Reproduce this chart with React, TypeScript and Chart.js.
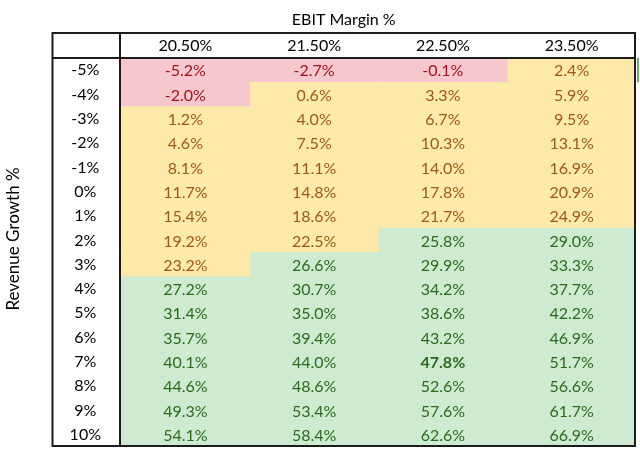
import React, { useEffect, useRef } from "react";
import { Chart, registerables } from "chart.js";

Chart.register(...registerables);

// ---- data ----
const growthLabels = ["-5%", "-4%", "-3%", "-2%", "-1%", "0%", "1%", "2%", "3%", "4%", "5%", "6%", "7%", "8%", "9%", "10%"];
const marginLabels = ["20.50%", "21.50%", "22.50%", "23.50%"];
const margin2050 = [-5.2, -2.0, 1.2, 4.6, 8.1, 11.7, 15.4, 19.2, 23.2, 27.2, 31.4, 35.7, 40.1, 44.6, 49.3, 54.1];
const margin2150 = [-2.7, 0.6, 4.0, 7.5, 11.1, 14.8, 18.6, 22.5, 26.6, 30.7, 35.0, 39.4, 44.0, 48.6, 53.4, 58.4];
const margin2250 = [-0.1, 3.3, 6.7, 10.3, 14.0, 17.8, 21.7, 25.8, 29.9, 34.2, 38.6, 43.2, 47.8, 52.6, 57.6, 62.6];
const margin2350 = [2.4, 5.9, 9.5, 13.1, 16.9, 20.9, 24.9, 29.0, 33.3, 37.7, 42.2, 46.9, 51.7, 56.6, 61.7, 66.9];
const columnValues = [margin2050, margin2150, margin2250, margin2350];
const lowThreshold = 0;
const highThreshold = 25;
const baseRow = 12; // 7%
const baseCol = 2; // 22.50%
const xTitle = "EBIT Margin %";
const yTitle = "Revenue Growth %";

// ---- styles ----
const FONT = "Lato";
const FILL_RED = "#F6C8CE";
const FILL_YELLOW = "#FDE9A9";
const FILL_GREEN = "#CEEBD1";
const TEXT_RED = "#A0141C";
const TEXT_YELLOW = "#9C5A1A";
const TEXT_GREEN = "#2B6A1E";
const LINE = "#1c1c1c";

const fillFor = (v: number) => (v < lowThreshold ? FILL_RED : v < highThreshold ? FILL_YELLOW : FILL_GREEN);
const textFor = (v: number) => (v < lowThreshold ? TEXT_RED : v < highThreshold ? TEXT_YELLOW : TEXT_GREEN);

const tablePlugin = {
  id: "tableDecor",
  afterDatasetsDraw(chart: any) {
    const ctx = chart.ctx;
    ctx.save();
    ctx.textAlign = "center";
    ctx.textBaseline = "middle";
    chart.data.datasets.forEach((ds: any, c: number) => {
      const meta = chart.getDatasetMeta(c);
      meta.data.forEach((el: any, r: number) => {
        const v = ds.values[r];
        const p = el.getCenterPoint();
        const bold = r === baseRow && c === baseCol;
        ctx.font = `${bold ? "bold " : ""}16px ${FONT}`;
        ctx.fillStyle = textFor(v);
        ctx.fillText(`${v.toFixed(1)}%`, p.x, p.y + 1);
      });
    });
    ctx.restore();
  },
  afterDraw(chart: any) {
    const { ctx, chartArea } = chart;
    const left = 52.5;
    const top = 33;
    const right = chartArea.right - 1;
    const bottom = chartArea.bottom - 1;
    ctx.save();
    ctx.strokeStyle = LINE;
    ctx.lineWidth = 2;
    ctx.beginPath();
    ctx.rect(left, top, right - left, bottom - top);
    ctx.moveTo(chartArea.left - 1, top);
    ctx.lineTo(chartArea.left - 1, bottom);
    ctx.moveTo(left, chartArea.top);
    ctx.lineTo(right, chartArea.top);
    ctx.stroke();

    // neighbouring cell marker at the right edge
    const rowH = (chartArea.bottom - chartArea.top) / growthLabels.length;
    ctx.strokeStyle = "#3E8E3E";
    ctx.lineWidth = 1.5;
    ctx.beginPath();
    ctx.moveTo(chartArea.right + 2, chartArea.top);
    ctx.lineTo(chartArea.right + 2, chartArea.top + rowH);
    ctx.stroke();

    ctx.fillStyle = "#000";
    ctx.font = `16px ${FONT}`;
    ctx.textAlign = "center";
    ctx.textBaseline = "middle";
    ctx.fillText(xTitle, (left + right) / 2, 20);
    ctx.font = `17px ${FONT}`;
    ctx.translate(14, 239);
    ctx.rotate(-Math.PI / 2);
    ctx.fillText(yTitle, 0, 0);
    ctx.restore();
  },
};

export default function App() {
  const ref = useRef<HTMLCanvasElement | null>(null);

  useEffect(() => {
    if (!ref.current) return;
    const chart = new Chart(ref.current, {
      type: "bar",
      data: {
        labels: growthLabels,
        datasets: columnValues.map((vals, c) => ({
          label: marginLabels[c],
          data: vals.map(() => [c, c + 1]),
          values: vals,
          backgroundColor: vals.map(fillFor),
          borderWidth: 0,
          barPercentage: 1,
          categoryPercentage: 1,
          grouped: false,
        })) as any,
      },
      options: {
        indexAxis: "y",
        animation: false,
        responsive: false,
        layout: { padding: { left: 0, top: 0, right: 4, bottom: 6 } },
        plugins: {
          legend: { display: false },
          tooltip: { enabled: false },
          title: { display: false },
        },
        scales: {
          y: {
            type: "category",
            grid: { display: false, drawTicks: false },
            border: { display: false },
            ticks: {
              color: "#000",
              font: { family: FONT, size: 16 },
              crossAlign: "center",
              padding: 20,
              autoSkip: false,
            },
            afterFit: (s: any) => {
              s.width = 121;
              s.paddingTop = 0;
              s.paddingBottom = 0;
            },
          },
          x: {
            type: "linear",
            position: "top",
            min: 0,
            max: columnValues.length,
            grid: { display: false, drawTicks: false },
            border: { display: false },
            afterBuildTicks: (s: any) => {
              s.ticks = marginLabels.map((_, i) => ({ value: i + 0.5 }));
            },
            ticks: {
              color: "#000",
              font: { family: FONT, size: 16 },
              padding: 3,
              autoSkip: false,
              maxRotation: 0,
              callback: (_v: any, i: number) => marginLabels[i],
            },
            afterFit: (s: any) => {
              s.height = 58;
              s.paddingLeft = 0;
              s.paddingRight = 0;
            },
          },
        },
      } as any,
      plugins: [tablePlugin],
    });
    return () => chart.destroy();
  }, []);

  return (
    <div style={{ position: "fixed", left: 0, top: 0, width: 640, height: 453, background: "#fff" }}>
      <canvas ref={ref} width={640} height={453} />
    </div>
  );
}
